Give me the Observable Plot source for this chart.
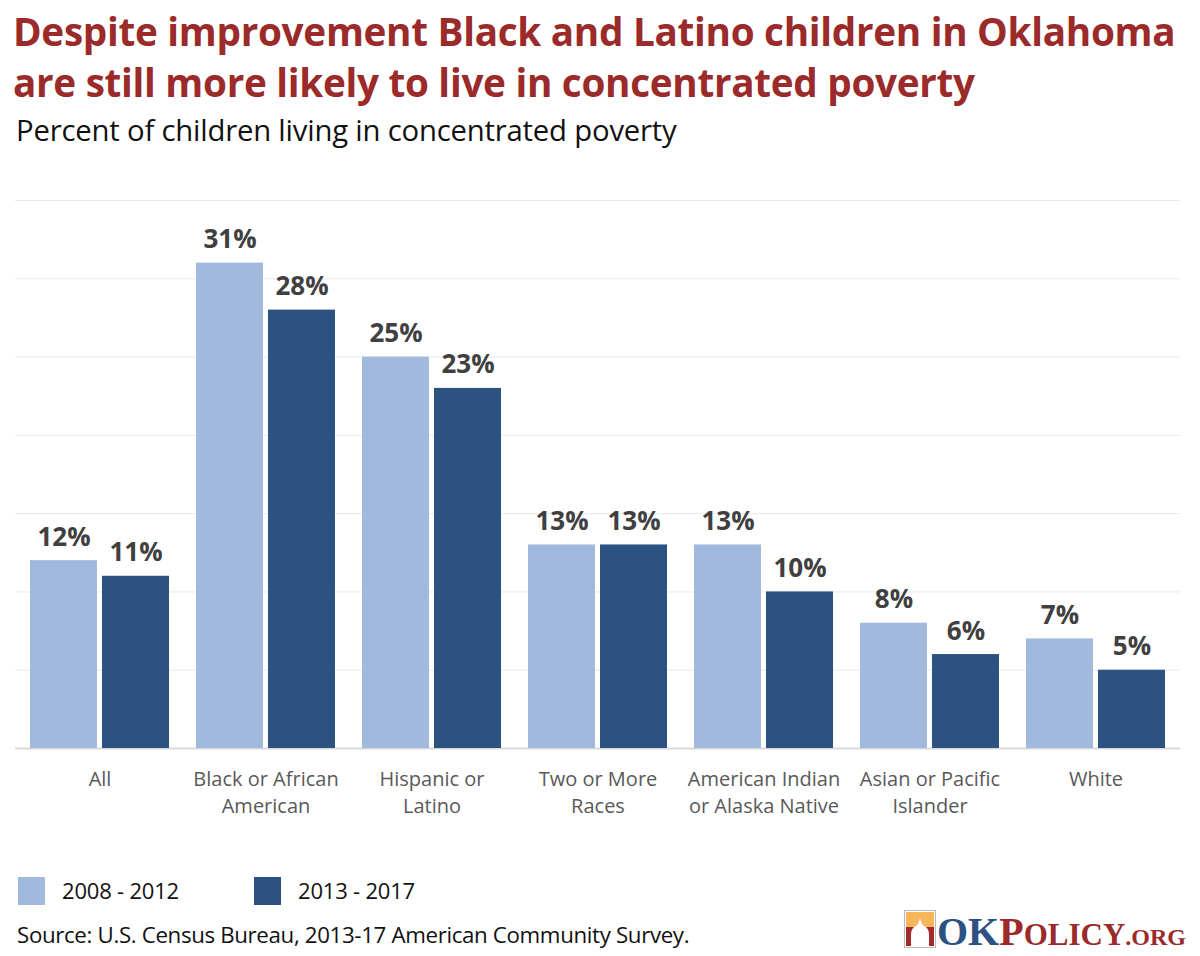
<!DOCTYPE html>
<html>
<head>
<meta charset="utf-8">
<script src="https://cdn.jsdelivr.net/npm/d3@7"></script>
<script src="https://cdn.jsdelivr.net/npm/@observablehq/plot@0.6"></script>
<style>
  html, body { margin: 0; padding: 0; background: #fff; }
  body { width: 1200px; height: 956px; position: relative; overflow: hidden; font-family: "Open Sans", "Noto Sans", sans-serif; }
  .abs { position: absolute; white-space: nowrap; }
  #title { left: 13px; top: 6px; color: #9b2a2a; font-weight: 700; font-size: 38.7px; line-height: 51px; letter-spacing: -0.3px; }
  #subtitle { left: 16px; top: 110px; color: #111; font-size: 29.3px; letter-spacing: -0.2px; }
  #chart { left: 0; top: 150px; }
  .sw { position: absolute; width: 27px; height: 28px; }
  .lt { position: absolute; font-size: 22px; color: #111; letter-spacing: -0.2px; }
  #source { left: 17px; top: 919px; font-size: 22.3px; color: #111; letter-spacing: -0.35px; }
  #logo { left: 903px; top: 890px; }
  #logo svg { overflow: visible; display: block; }
</style>
</head>
<body>
<div id="title" class="abs">Despite improvement Black and Latino children in Oklahoma<br>are still more likely to live in concentrated poverty</div>
<div id="subtitle" class="abs">Percent of children living in concentrated poverty</div>
<div id="chart" class="abs"></div>
<div id="legend"></div>
<div id="source" class="abs">Source: U.S. Census Bureau, 2013-17 American Community Survey.</div>
<div id="logo" class="abs"></div>
<script>
const categories = ["All", "Black or African\nAmerican", "Hispanic or\nLatino", "Two or More\nRaces", "American Indian\nor Alaska Native", "Asian or Pacific\nIslander", "White"];
const seriesNames = ["2008 - 2012", "2013 - 2017"];
const values2008 = [12, 31, 25, 13, 13, 8, 7];
const values2013 = [11, 28, 23, 13, 10, 6, 5];
const gridTicks = [0, 5, 10, 15, 20, 25, 30, 35];
const colors = ["#a2b9de", "#2c5282"];

const rows = [];
categories.forEach((c, i) => {
  rows.push({category: c, series: seriesNames[0], value: values2008[i]});
  rows.push({category: c, series: seriesNames[1], value: values2013[i]});
});
const s1 = rows.filter(d => d.series === seriesNames[0]);
const s2 = rows.filter(d => d.series === seriesNames[1]);

const chart = Plot.plot({
  width: 1200,
  height: 690,
  marginLeft: 15,
  marginRight: 20,
  marginTop: 50,
  marginBottom: 92,
  style: {fontFamily: "'Open Sans', 'Noto Sans', sans-serif", background: "transparent"},
  x: {domain: categories, paddingInner: 0.16, paddingOuter: 0.08, label: null},
  y: {domain: [0, 35], axis: null},
  marks: [
    Plot.ruleY(gridTicks, {stroke: d => d === 0 ? "#d9d9d9" : "#e8e8e8", strokeWidth: d => d === 0 ? 2 : 1}),
    Plot.barY(s1, {x: "category", y: "value", fill: colors[0], insetRight: 72}),
    Plot.barY(s2, {x: "category", y: "value", fill: colors[1], insetLeft: 72}),
    Plot.text(s1, {x: "category", y: "value", text: d => d.value + "%", dx: -36, dy: -15, lineAnchor: "bottom", fontSize: 26, fontWeight: "bold", fill: "#404040"}),
    Plot.text(s2, {x: "category", y: "value", text: d => d.value + "%", dx: 36, dy: -15, lineAnchor: "bottom", fontSize: 26, fontWeight: "bold", fill: "#404040"}),
    Plot.axisX({tickSize: 0, tickPadding: 18, fontSize: 20, color: "#595959", label: null, lineHeight: 1.35})
  ]
});
document.getElementById("chart").appendChild(chart);

// legend
const legend = document.getElementById("legend");
const legendX = [18, 254];
seriesNames.forEach((s, i) => {
  const sw = document.createElement("div");
  sw.className = "sw";
  sw.style.left = legendX[i] + "px";
  sw.style.top = "877px";
  sw.style.background = colors[i];
  legend.appendChild(sw);
  const t = document.createElement("div");
  t.className = "lt";
  t.style.left = (legendX[i] + 44) + "px";
  t.style.top = "875px";
  t.textContent = s;
  legend.appendChild(t);
});

// logo
document.getElementById("logo").innerHTML = `
<svg width="294" height="62" xmlns="http://www.w3.org/2000/svg">
  <rect x="1.5" y="20.5" width="31" height="37" fill="#fff" stroke="#bbb" stroke-width="1"/>
  <rect x="3" y="22" width="28" height="15" fill="#f5b75a"/>
  <rect x="3" y="37" width="28" height="19" fill="#a32a2a"/>
  <path d="M8 56 L8 45 Q8 38 13 36 Q16 34 17 27 Q18 34 21 36 Q26 38 26 45 L26 56 Z" fill="#fff"/>
  <text x="34" y="55" font-size="40" font-family="'Liberation Serif', 'DejaVu Serif', serif" font-weight="bold" fill="#9b2a2a"><tspan fill="#2c5282">OK</tspan><tspan>P</tspan><tspan font-size="31">OLICY</tspan><tspan font-size="24">.ORG</tspan></text>
</svg>`;
</script>
</body>
</html>
